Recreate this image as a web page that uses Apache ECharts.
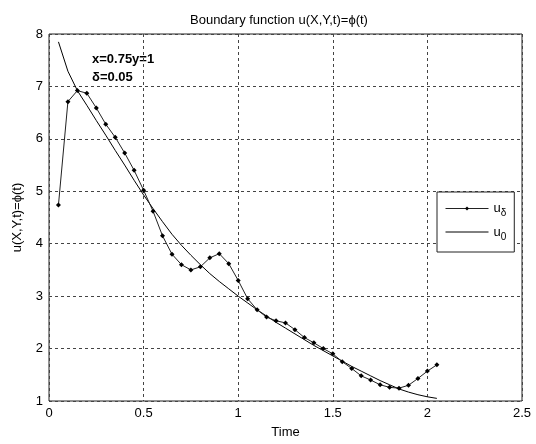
<!DOCTYPE html>
<html>
<head>
  <meta charset="utf-8" />
  <title>Boundary function</title>
  <script src="https://cdn.jsdelivr.net/npm/echarts@6/dist/echarts.min.js"></script>
  <style>
    body { margin: 0; background: #fff; }
  </style>
</head>
<body>
  <div id="main" style="width: 536px;height:444px;"></div>
  <script type="text/javascript">
    // time samples (step 0.05)
    let tData = [0.05, 0.10, 0.15, 0.20, 0.25, 0.30, 0.35, 0.40, 0.45, 0.50,
      0.55, 0.60, 0.65, 0.70, 0.75, 0.80, 0.85, 0.90, 0.95, 1.00,
      1.05, 1.10, 1.15, 1.20, 1.25, 1.30, 1.35, 1.40, 1.45, 1.50,
      1.55, 1.60, 1.65, 1.70, 1.75, 1.80, 1.85, 1.90, 1.95, 2.00, 2.05];
    // u_delta (noisy, with markers)
    let uDelta = [4.74, 6.71, 6.92, 6.87, 6.59, 6.28, 6.03, 5.73, 5.40, 5.02,
      4.62, 4.15, 3.80, 3.60, 3.50, 3.56, 3.73, 3.81, 3.62, 3.30,
      2.95, 2.74, 2.60, 2.53, 2.49, 2.36, 2.21, 2.11, 2.00, 1.90,
      1.75, 1.62, 1.48, 1.40, 1.31, 1.26, 1.245, 1.30, 1.43, 1.57, 1.69];
    // u_0 (exact)
    let u0 = [7.85, 7.29, 6.92, 6.64, 6.35, 6.07, 5.78, 5.50, 5.21, 4.93,
      4.67, 4.42, 4.18, 3.97, 3.78, 3.60, 3.43, 3.28, 3.14, 3.00,
      2.87, 2.74, 2.62, 2.50, 2.39, 2.28, 2.17, 2.06, 1.96, 1.86,
      1.76, 1.66, 1.57, 1.48, 1.39, 1.31, 1.23, 1.17, 1.12, 1.08, 1.05];
    let xTicks = [0, 2.5, 0.5];
    let yTicks = [1, 8, 1];

    var myChart = echarts.init(document.getElementById('main'));
    let font = 'Arial, "Liberation Sans", sans-serif';
    let gridLine = { show: true, lineStyle: { color: '#444', type: [3, 3], width: 1 } };

    var option = {
      backgroundColor: '#fff',
      animation: false,
      textStyle: { fontFamily: font },
      title: {
        text: 'Boundary function u(X,Y,t)=\u03d5(t)',
        left: 185,
        top: 9,
        textStyle: { fontSize: 13, fontWeight: 'normal', color: '#000', fontFamily: font }
      },
      grid: {
        left: 49, right: 14, top: 34, bottom: 39,
        show: true, borderColor: '#222', borderWidth: 1, backgroundColor: '#fff'
      },
      legend: {
        orient: 'vertical',
        left: 437, top: 192,
        itemWidth: 43, itemHeight: 5, itemGap: 7,
        padding: [10, 8, 10, 8],
        backgroundColor: '#fff',
        borderColor: '#222', borderWidth: 1, borderRadius: 0,
        lineStyle: { width: 1 },
        textStyle: {
          color: '#000', fontSize: 13, fontFamily: font,
          rich: { s: { fontSize: 10, padding: [10, 0, 0, 0], color: '#000' } }
        },
        formatter: function (name) {
          return name === 'ud' ? 'u{s|\u03b4}' : 'u{s|0}';
        },
        data: [
          { name: 'ud' },
          { name: 'u0', itemStyle: { opacity: 0 } }
        ]
      },
      graphic: [{
        type: 'text', left: 92, top: 50,
        style: {
          text: 'x=0.75y=1\n\u03b4=0.05', font: 'bold 13px ' + font,
          fill: '#000', lineHeight: 18
        }
      }],
      xAxis: {
        type: 'value',
        min: xTicks[0], max: xTicks[1], interval: xTicks[2],
        name: 'Time', nameLocation: 'middle', nameGap: 25,
        nameTextStyle: { fontSize: 13, color: '#000' },
        axisLine: { show: false },
        axisTick: { show: false },
        axisLabel: { margin: 6, fontSize: 13, color: '#000' },
        splitLine: gridLine
      },
      yAxis: {
        type: 'value',
        min: yTicks[0], max: yTicks[1], interval: yTicks[2],
        name: 'u(X,Y,t)=\u03d5(t)', nameLocation: 'middle', nameGap: 25,
        nameTextStyle: { fontSize: 13, color: '#000' },
        axisLine: { show: false },
        axisTick: { show: false },
        axisLabel: { margin: 6, fontSize: 13, color: '#000' },
        splitLine: gridLine
      },
      series: [{
        name: 'ud',
        type: 'line',
        data: tData.map((t, i) => [t, uDelta[i]]),
        symbol: 'diamond', symbolSize: 5, showSymbol: true,
        itemStyle: { color: '#000' },
        lineStyle: { color: '#222', width: 1 },
        z: 3
      }, {
        name: 'u0',
        type: 'line',
        data: tData.map((t, i) => [t, u0[i]]),
        symbol: 'none',
        itemStyle: { color: '#000' },
        lineStyle: { color: '#000', width: 1 },
        z: 2
      }]
    };
    myChart.setOption(option);
  </script>
</body>
</html>
